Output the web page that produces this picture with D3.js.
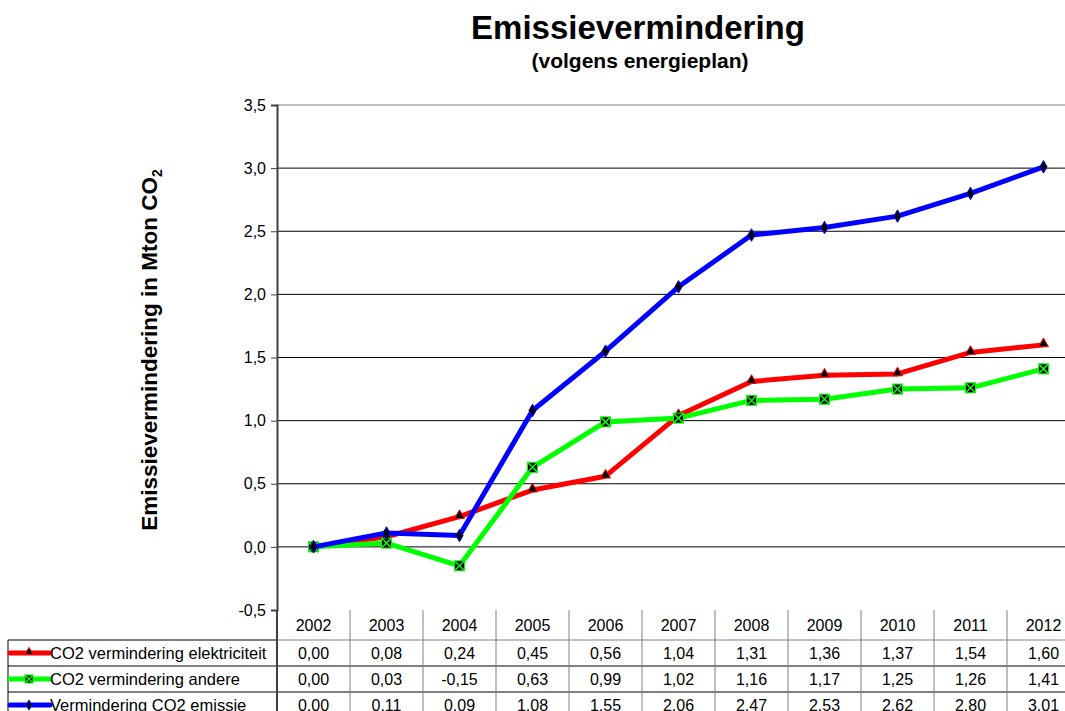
<!DOCTYPE html>
<html>
<head>
<meta charset="utf-8">
<script src="https://cdn.jsdelivr.net/npm/d3@7"></script>
<style>
  body { margin: 0; background: #fff; }
  svg { font-family: "Liberation Sans", Arial, sans-serif; display: block; }
</style>
</head>
<body>
<svg id="chart" width="1065" height="711"></svg>
<script>
// data
const years = ["2002","2003","2004","2005","2006","2007","2008","2009","2010","2011","2012"];
const elektriciteit = [0.00, 0.08, 0.24, 0.45, 0.56, 1.04, 1.31, 1.36, 1.37, 1.54, 1.60];
const andere = [0.00, 0.03, -0.15, 0.63, 0.99, 1.02, 1.16, 1.17, 1.25, 1.26, 1.41];
const emissie = [0.00, 0.11, 0.09, 1.08, 1.55, 2.06, 2.47, 2.53, 2.62, 2.80, 3.01];
const yTicks = [-0.5, 0, 0.5, 1, 1.5, 2, 2.5, 3, 3.5];

const series = [
  { name: "CO2 vermindering elektriciteit", values: elektriciteit, color: "#ff0000", marker: "triangle" },
  { name: "CO2 vermindering andere", values: andere, color: "#00ff00", marker: "squarex" },
  { name: "Vermindering CO2 emissie", values: emissie, color: "#0000ff", marker: "diamond" }
];

const svg = d3.select("#chart");
const fmt = v => d3.format(".2f")(v).replace(".", ",").replace("−", "-");

const plotLeft = 277, colW = 73;
const x = d3.scaleBand().domain(years).range([plotLeft, plotLeft + colW * years.length]).padding(0);
const cx = d => x(d) + x.bandwidth() / 2;
const y = d3.scaleLinear().domain([-0.5, 3.5]).range([610, 105]);

// titles
svg.append("text")
  .attr("x", 638).attr("y", 39)
  .attr("text-anchor", "middle")
  .style("font-size", "33px").style("font-weight", "bold")
  .text("Emissievermindering");
svg.append("text")
  .attr("x", 640).attr("y", 68)
  .attr("text-anchor", "middle")
  .style("font-size", "21px").style("font-weight", "bold")
  .text("(volgens energieplan)");

// y axis title
const yt = svg.append("text")
  .attr("transform", "translate(157,350) rotate(-90)")
  .attr("text-anchor", "middle")
  .style("font-size", "22.5px").style("font-weight", "bold");
yt.append("tspan").text("Emissievermindering in Mton CO");
yt.append("tspan").attr("dy", 5).style("font-size", "14px").text("2");

// gridlines
svg.append("g").selectAll("line")
  .data(yTicks.filter(t => t > -0.5))
  .join("line")
    .attr("x1", plotLeft).attr("x2", 1065)
    .attr("y1", d => y(d)).attr("y2", d => y(d))
    .attr("stroke", d => d === 3.5 ? "#808080" : "#000")
    .attr("stroke-width", 1);

// y axis
const yAxis = d3.axisLeft(y).tickValues(yTicks).tickSize(6).tickPadding(5)
  .tickFormat(d => d3.format(".1f")(d).replace(".", ",").replace("−", "-"));
const ga = svg.append("g").attr("transform", `translate(${plotLeft},0)`).call(yAxis);
ga.select(".domain").attr("stroke", "#404040").attr("stroke-width", 2);
ga.selectAll(".tick line").attr("stroke", "#404040");
ga.selectAll(".tick text").style("font-size", "16px").attr("fill", "#000")
  .style("font-family", "Liberation Sans, Arial, sans-serif");

// markers (w = approx width in px)
const drawMarker = (sel, type, color, w) => {
  if (type === "triangle") {
    sel.append("path").attr("d", d3.symbol(d3.symbolTriangle, 0.43 * w * w)())
      .attr("transform", "translate(0,-1)")
      .attr("fill", "#000").attr("stroke", color).attr("stroke-width", 1);
  } else if (type === "diamond") {
    sel.append("path").attr("d", d3.symbol(d3.symbolDiamond, 0.45 * w * w)())
      .attr("fill", "#000").attr("stroke", color).attr("stroke-width", 1);
  } else {
    const h = w / 2;
    sel.append("rect").attr("x", -h).attr("y", -h).attr("width", 2 * h).attr("height", 2 * h)
      .attr("fill", "#000").attr("stroke", color).attr("stroke-width", 1);
    sel.append("path").attr("d", `M${-h},${-h}L${h},${h}M${-h},${h}L${h},${-h}`)
      .attr("stroke", color).attr("stroke-width", 1.5);
  }
};

const line = d3.line().x((v, i) => cx(years[i])).y(v => y(v));
const gs = svg.append("g").selectAll("g").data(series).join("g");
gs.append("path")
  .attr("d", d => line(d.values))
  .attr("fill", "none")
  .attr("stroke", d => d.color)
  .attr("stroke-width", 5)
  .attr("stroke-linejoin", "round");
gs.each(function(s) {
  d3.select(this).selectAll("g.m")
    .data(s.values)
    .join("g")
      .attr("class", "m")
      .attr("transform", (v, i) => `translate(${cx(years[i])},${y(v)})`)
      .each(function() { drawMarker(d3.select(this), s.marker, s.color, 10); });
});

// data table
const rowH = 26, headTop = 610, headH = 30, legLeft = 8;
const table = svg.append("g");
const rowsTop = headTop + headH;
const tableRight = plotLeft + colW * years.length;

// horizontal lines
table.append("line").attr("x1", legLeft).attr("x2", plotLeft).attr("y1", rowsTop).attr("y2", rowsTop).attr("stroke", "#000");
table.append("line").attr("x1", plotLeft).attr("x2", tableRight).attr("y1", rowsTop).attr("y2", rowsTop).attr("stroke", "#808080");
[1, 2].forEach(i => {
  table.append("line").attr("x1", legLeft).attr("x2", tableRight)
    .attr("y1", rowsTop + i * rowH).attr("y2", rowsTop + i * rowH).attr("stroke", "#000");
});
// vertical lines
table.append("line").attr("x1", legLeft).attr("x2", legLeft).attr("y1", rowsTop).attr("y2", 711).attr("stroke", "#000");
table.selectAll("line.v")
  .data(years.map((d, i) => i).concat([years.length]))
  .join("line")
    .attr("class", "v")
    .attr("x1", i => plotLeft + i * colW).attr("x2", i => plotLeft + i * colW)
    .attr("y1", headTop).attr("y2", 711)
    .attr("stroke", i => i === 0 ? "#404040" : "#808080")
    .attr("stroke-width", i => i === 0 ? 2 : 1);

// header years
table.selectAll("text.yr")
  .data(years)
  .join("text")
    .attr("class", "yr")
    .attr("x", d => cx(d)).attr("y", headTop + 21)
    .attr("text-anchor", "middle")
    .style("font-size", "16px")
    .text(d => d);

// rows
series.forEach((s, r) => {
  const yc = rowsTop + r * rowH + rowH / 2;
  const lg = table.append("g");
  lg.append("line").attr("x1", legLeft + 2).attr("x2", legLeft + 42)
    .attr("y1", yc).attr("y2", yc).attr("stroke", s.color).attr("stroke-width", 5)
    .attr("stroke-linecap", "round");
  const mk = lg.append("g").attr("transform", `translate(${legLeft + 21},${yc})`);
  drawMarker(mk, s.marker, s.color, 8);
  lg.append("text").attr("x", legLeft + 42).attr("y", yc + 6)
    .style("font-size", "16.5px").text(s.name);
  table.selectAll(null)
    .data(s.values)
    .join("text")
      .attr("x", (v, i) => cx(years[i])).attr("y", yc + 6)
      .attr("text-anchor", "middle")
      .style("font-size", "16px")
      .text(v => fmt(v));
});
</script>
</body>
</html>
